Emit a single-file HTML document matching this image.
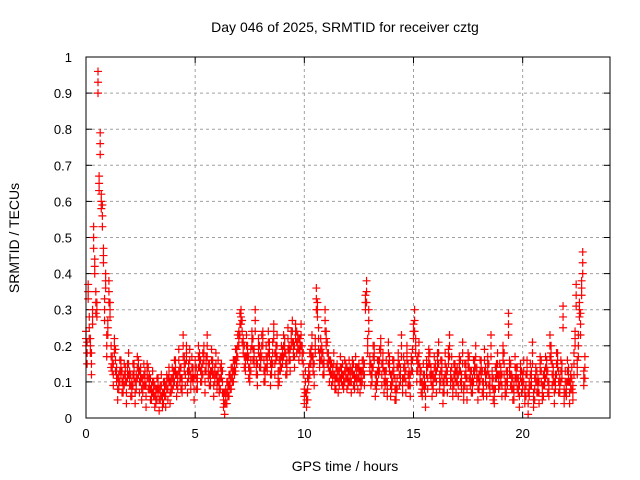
<!DOCTYPE html>
<html><head><meta charset="utf-8"><style>
body{margin:0;background:#fff;}
svg{display:block;font-family:"Liberation Sans",sans-serif;}
</style></head><body>
<svg id="chart" width="640" height="480" viewBox="0 0 640 480">
<text x="345" y="32" font-size="14" text-anchor="middle">Day 046 of 2025, SRMTID for receiver cztg</text>
<text transform="translate(19,238) rotate(-90)" font-size="14" text-anchor="middle">SRMTID / TECUs</text>
<text x="345" y="471" font-size="14" text-anchor="middle">GPS time / hours</text>
<g id="grid"></g>
<g id="ticks"></g>
<g id="marks"></g>
<rect x="86" y="57" width="524" height="361" fill="none" stroke="#000" stroke-width="1"/>
</svg>
<script>
const xTicks=[0,5,10,15,20];
const yTicks=[0,0.1,0.2,0.3,0.4,0.5,0.6,0.7,0.8,0.9,1];
const yTickLabels=["0","0.1","0.2","0.3","0.4","0.5","0.6","0.7","0.8","0.9","1"];
const step=0.1;
const seriesA=[0.22,0.35,0.2,0.28,0.42,0.3,0.65,0.6,0.45,0.38,
0.25,0.3,0.15,0.2,0.12,0.1,0.14,0.09,0.12,0.13,
0.11,0.08,0.13,0.1,0.14,0.12,0.09,0.11,0.13,0.1,
0.07,0.08,0.06,0.09,0.07,0.05,0.08,0.1,0.12,0.09,
0.11,0.14,0.1,0.12,0.09,0.15,0.18,0.13,0.1,0.12,
0.14,0.1,0.16,0.12,0.18,0.15,0.13,0.11,0.14,0.12,
0.1,0.09,0.13,0.05,0.06,0.08,0.1,0.12,0.14,0.17,
0.22,0.28,0.2,0.15,0.18,0.12,0.22,0.17,0.14,0.2,
0.16,0.22,0.12,0.15,0.19,0.14,0.24,0.18,0.11,0.15,
0.17,0.2,0.14,0.18,0.22,0.19,0.24,0.21,0.2,0.18,
0.06,0.05,0.12,0.17,0.15,0.2,0.3,0.16,0.18,0.14,
0.22,0.16,0.14,0.12,0.1,0.13,0.11,0.12,0.1,0.13,
0.11,0.12,0.14,0.1,0.12,0.13,0.11,0.14,0.32,0.2,
0.15,0.12,0.18,0.1,0.14,0.2,0.16,0.11,0.08,0.15,
0.1,0.14,0.07,0.16,0.12,0.09,0.13,0.18,0.11,0.15,
0.24,0.2,0.15,0.12,0.08,0.1,0.14,0.17,0.12,0.1,
0.13,0.16,0.1,0.14,0.09,0.12,0.17,0.11,0.08,0.13,
0.12,0.15,0.1,0.07,0.13,0.16,0.11,0.09,0.14,0.12,
0.1,0.14,0.08,0.12,0.15,0.09,0.11,0.06,0.13,0.1,
0.12,0.18,0.08,0.11,0.14,0.1,0.07,0.12,0.09,0.13,
0.1,0.06,0.14,0.08,0.11,0.05,0.12,0.09,0.15,0.07,
0.11,0.14,0.08,0.18,0.12,0.1,0.16,0.09,0.13,0.06,
0.08,0.12,0.1,0.07,0.22,0.14,0.3,0.36,0.11];
const seriesB=[0.18,0.25,0.15,0.5,0.32,0.93,0.76,0.56,0.3,0.2,
0.35,0.17,0.12,0.16,0.08,0.13,0.1,0.12,0.07,0.15,
0.09,0.12,0.07,0.14,0.1,0.08,0.12,0.06,0.11,0.08,
0.1,0.06,0.08,0.05,0.09,0.07,0.06,0.08,0.07,0.11,
0.13,0.09,0.16,0.11,0.2,0.12,0.1,0.16,0.14,0.08,
0.11,0.17,0.13,0.15,0.1,0.2,0.12,0.16,0.09,0.15,
0.13,0.11,0.1,0.04,0.07,0.09,0.11,0.13,0.16,0.2,
0.26,0.24,0.17,0.2,0.14,0.16,0.19,0.27,0.12,0.17,
0.2,0.13,0.17,0.21,0.12,0.18,0.15,0.2,0.13,0.17,
0.2,0.15,0.22,0.16,0.24,0.17,0.21,0.19,0.23,0.15,
0.1,0.08,0.15,0.2,0.12,0.33,0.22,0.19,0.15,0.27,
0.18,0.13,0.12,0.15,0.11,0.1,0.14,0.12,0.13,0.11,
0.13,0.1,0.12,0.14,0.11,0.1,0.13,0.12,0.35,0.27,
0.12,0.17,0.09,0.13,0.16,0.12,0.1,0.13,0.18,0.09,
0.13,0.08,0.11,0.12,0.2,0.14,0.1,0.12,0.09,0.16,
0.27,0.13,0.18,0.1,0.12,0.06,0.11,0.15,0.09,0.14,
0.1,0.18,0.13,0.07,0.15,0.1,0.2,0.14,0.12,0.1,
0.09,0.13,0.18,0.12,0.08,0.14,0.1,0.13,0.17,0.08,
0.13,0.1,0.16,0.09,0.12,0.2,0.08,0.11,0.15,0.12,
0.09,0.15,0.1,0.26,0.12,0.08,0.14,0.11,0.06,0.1,
0.13,0.09,0.04,0.12,0.18,0.08,0.1,0.07,0.13,0.09,
0.14,0.1,0.2,0.12,0.07,0.15,0.1,0.13,0.28,0.1,
0.13,0.07,0.11,0.15,0.34,0.2,0.26,0.43,0.14];
const NS="http://www.w3.org/2000/svg";
const X0=86,X1=610,Y0=418,Y1=57,XMAX=24,YMAX=1;
function xs(t){return X0+(X1-X0)*t/XMAX;}
function ys(v){return Y0-(Y0-Y1)*v/YMAX;}
function mk(tag,attrs,parent){const e=document.createElementNS(NS,tag);for(const k in attrs)e.setAttribute(k,attrs[k]);parent.appendChild(e);return e;}
const grid=document.getElementById('grid'),ticks=document.getElementById('ticks'),marks=document.getElementById('marks');
xTicks.forEach(t=>{const x=xs(t);
 if(t>0){const g=mk('line',{x1:x,x2:x,y1:Y1,y2:Y0,stroke:'#a0a0a0','stroke-dasharray':'3,3'},grid);
 
 }
 mk('line',{x1:x,x2:x,y1:Y0,y2:Y0-6,stroke:'#000'},ticks);mk('line',{x1:x,x2:x,y1:Y1,y2:Y1+6,stroke:'#000'},ticks);
 const l=mk('text',{x:x,y:Y0+20,'font-size':13,'text-anchor':'middle'},ticks);l.textContent=t;
 
 
});
yTicks.forEach((v,i)=>{const y=ys(v);
 if(v>0&&v<1){const g=mk('line',{x1:X0,x2:X1,y1:y,y2:y,stroke:'#a0a0a0','stroke-dasharray':'3,3'},grid);
 
 }
 mk('line',{x1:X0,x2:X0+6,y1:y,y2:y,stroke:'#000'},ticks);mk('line',{x1:X1,x2:X1-6,y1:y,y2:y,stroke:'#000'},ticks);
 const l=mk('text',{x:X0-14,y:y+5,'font-size':13,'text-anchor':'end'},ticks);l.textContent=yTickLabels[i];
 
 
});
function plus(t,v){const x=xs(t),y=ys(v);
 const p=mk('path',{d:`M${x-4},${y}h8M${x},${y-4}v8`,stroke:'#ff0000','stroke-width':1.2,fill:'none'},marks);
 
 }
const spread=[-0.02,0,0.02];
seriesA.forEach((v,i)=>spread.forEach(d=>plus(i*step,Math.max(0,v+d))));
seriesB.forEach((v,i)=>spread.forEach(d=>plus(i*step+step/2,Math.max(0,v+d*1.5))));
</script>
</body></html>
